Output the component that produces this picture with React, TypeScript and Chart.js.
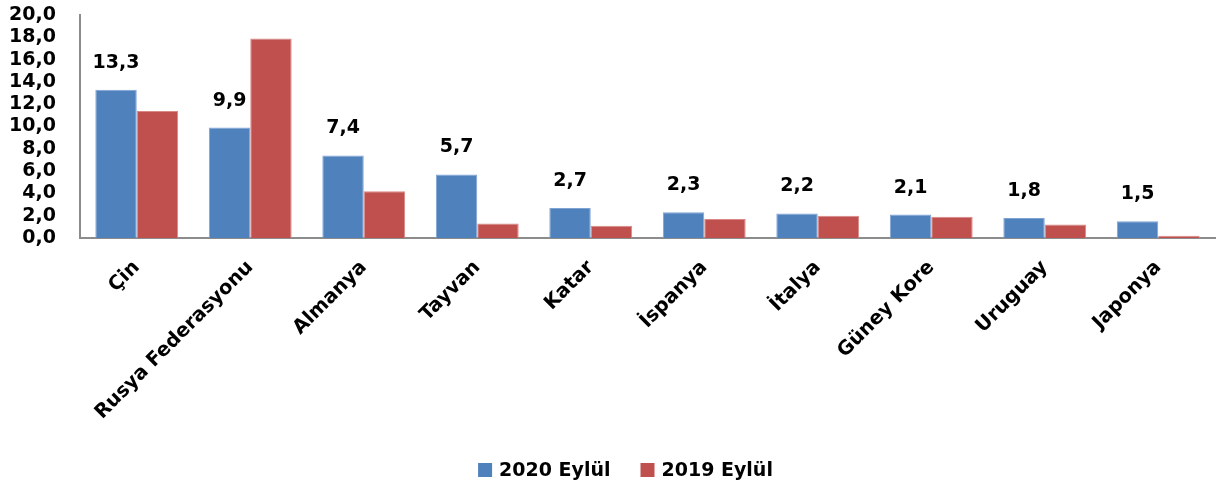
import React, { useEffect, useRef } from "react";
import { Chart, registerables } from "chart.js";

Chart.register(...registerables);

const categories = ["Çin", "Rusya Federasyonu", "Almanya", "Tayvan", "Katar", "İspanya", "İtalya", "Güney Kore", "Uruguay", "Japonya"];
const series2020 = [13.3, 9.9, 7.4, 5.7, 2.7, 2.3, 2.2, 2.1, 1.8, 1.5];
const series2019 = [11.4, 17.9, 4.2, 1.3, 1.1, 1.7, 2.0, 1.9, 1.2, 0.2];
const yTicks = [0, 2, 4, 6, 8, 10, 12, 14, 16, 18, 20];
const seriesNames = ["2020 Eylül", "2019 Eylül"];
const seriesColors = ["#4F81BD", "#C0504D"];
const seriesBorders = ["#7FA3D3", "#D98886"];

const FONT = "'DejaVu Sans', sans-serif";
const fmt = (v: number) => v.toFixed(1).replace(".", ",");
const W = 1221;
const OFFSET = 18; // canvas is shifted up by this amount
const H = 490 + OFFSET;
const PLOT_BOTTOM = 238 + OFFSET;
const LEGEND_SPACE = 40;

const labelPlugin = {
  id: "valueLabels",
  afterDatasetsDraw(chart: any) {
    const ctx = chart.ctx;
    const meta = chart.getDatasetMeta(0);
    ctx.save();
    ctx.font = `bold 19px ${FONT}`;
    ctx.fillStyle = "#000";
    ctx.textAlign = "center";
    ctx.textBaseline = "alphabetic";
    meta.data.forEach((bar: any, i: number) => {
      ctx.fillText(fmt(series2020[i]), bar.x, bar.y - 22);
    });
    ctx.restore();
  },
};

const legendPlugin = {
  id: "customLegend",
  afterDraw(chart: any) {
    const ctx = chart.ctx;
    ctx.save();
    ctx.font = `bold 19px ${FONT}`;
    const box = 14;
    const gapBoxText = 7;
    const gapItems = 30;
    const widths = seriesNames.map((n) => ctx.measureText(n).width);
    const total = widths.reduce((a, w) => a + box + gapBoxText + w, 0) + gapItems * (seriesNames.length - 1);
    const cx = chart.width / 2 + 15;
    const cy = chart.height - 20;
    let x = cx - total / 2;
    ctx.textBaseline = "middle";
    ctx.textAlign = "left";
    seriesNames.forEach((n, i) => {
      ctx.fillStyle = seriesColors[i];
      ctx.fillRect(x, cy - box / 2, box, box);
      ctx.fillStyle = "#000";
      ctx.fillText(n, x + box + gapBoxText, cy + 1);
      x += box + gapBoxText + widths[i] + gapItems;
    });
    ctx.restore();
  },
};

export default function App() {
  const ref = useRef<HTMLCanvasElement>(null);
  useEffect(() => {
    if (!ref.current) return;
    const chart = new Chart(ref.current, {
      type: "bar",
      data: {
        labels: categories,
        datasets: seriesNames.map((name, i) => ({
          label: name,
          data: i === 0 ? series2020 : series2019,
          backgroundColor: seriesColors[i],
          borderColor: seriesBorders[i],
          borderWidth: 1,
          categoryPercentage: 0.73,
          barPercentage: 1.0,
        })),
      },
      options: {
        animation: false,
        responsive: false,
        maintainAspectRatio: false,
        layout: { padding: { top: 15 + OFFSET, right: 6, left: 0, bottom: LEGEND_SPACE } },
        plugins: {
          legend: { display: false },
          tooltip: { enabled: false },
        },
        scales: {
          x: {
            afterFit: (s: any) => {
              s.height = H - LEGEND_SPACE - PLOT_BOTTOM;
            },
            grid: { display: false },
            border: { display: true, color: "#8c8c8c", width: 2 },
            ticks: {
              color: "#000",
              minRotation: 45,
              maxRotation: 45,
              padding: 10,
              autoSkip: false,
              font: { family: FONT, size: 19.5, weight: "bold" },
            },
          },
          y: {
            min: 0,
            max: 20,
            afterFit: (s: any) => {
              s.width = 80;
            },
            afterBuildTicks: (s: any) => {
              s.ticks = yTicks.map((v) => ({ value: v }));
            },
            grid: { display: false },
            border: { display: true, color: "#8c8c8c", width: 2 },
            ticks: {
              color: "#000",
              padding: 16,
              autoSkip: false,
              font: { family: FONT, size: 19, weight: "bold", lineHeight: 1.0 },
              callback: (v: any) => fmt(Number(v)),
            },
          },
        },
      },
      plugins: [labelPlugin, legendPlugin],
    });
    return () => chart.destroy();
  }, []);
  return (
    <div style={{ position: "absolute", left: 0, top: 0, width: 1221, height: 490, overflow: "hidden", background: "#fff" }}>
      <canvas
        ref={ref}
        width={W}
        height={H}
        style={{ position: "absolute", left: 0, top: -OFFSET, width: W, height: H }}
      />
    </div>
  );
}
